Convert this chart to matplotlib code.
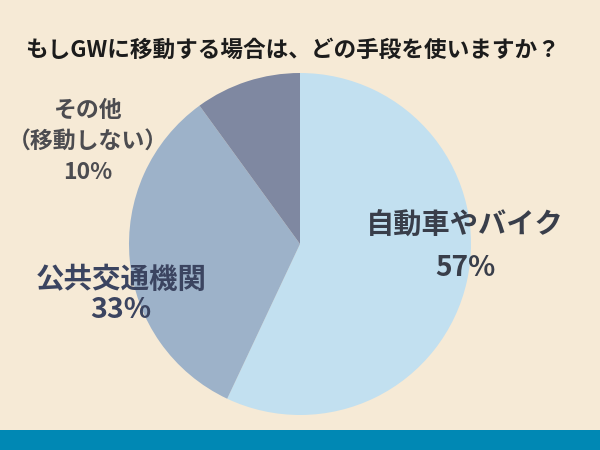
import matplotlib
matplotlib.use("Agg")
import matplotlib.pyplot as plt
from matplotlib.patches import Rectangle

plt.rcParams['font.family'] = ['Noto Sans CJK JP', 'DejaVu Sans']

title = "もしGWに移動する場合は、どの手段を使いますか？"
categories = ["自動車やバイク", "公共交通機関", "その他\n（移動しない）"]
values = [57, 33, 10]
pct_labels = ["57%", "33%", "10%"]
colors = ["#c2e0f0", "#9db2c9", "#7f88a1"]

BG = "#f6ead6"
fig = plt.figure(figsize=(6, 4.5), dpi=100, facecolor=BG)

# bottom bar
fig.patches.append(Rectangle((0, 0), 1, 20 / 450, transform=fig.transFigure,
                             facecolor="#0088b4", edgecolor="none", zorder=0))

ax = fig.add_axes([0.5 - 0.285, (1 - 244 / 450) - 0.38, 0.57, 0.76])
ax.set_facecolor("none")
ax.pie(values, colors=colors, startangle=90, counterclock=False,
       wedgeprops=dict(linewidth=0))
ax.set_xlim(-1, 1)
ax.set_ylim(-1, 1)
ax.set_aspect("equal")
ax.axis("off")

fig.text(25 / 600, 1 - 50 / 450, title, fontsize=16.3, fontweight="bold",
         color="#1c1c1c", ha="left", va="center")

# 57%
fig.text(465 / 600, 1 - 226 / 450, categories[0], fontsize=20.3, fontweight="bold",
         color="#393e4a", ha="center", va="center")
fig.text(465 / 600, 1 - 268 / 450, pct_labels[0], fontsize=20.3, fontweight="bold",
         color="#393e4a", ha="center", va="center")
# 33%
fig.text(121 / 600, 1 - 280 / 450, categories[1], fontsize=20.5, fontweight="bold",
         color="#3b4460", ha="center", va="center")
fig.text(121 / 600, 1 - 310 / 450, pct_labels[1], fontsize=20.5, fontweight="bold",
         color="#3b4460", ha="center", va="center")
# 10%
lines = categories[2].split("\n") + [pct_labels[2]]
for yy, t in zip([110, 142, 173], lines):
    fig.text(88 / 600, 1 - yy / 450, t, fontsize=16.5, fontweight="bold",
             color="#4c4c50", ha="center", va="center")

fig.savefig("out.png", dpi=100, facecolor=BG)
